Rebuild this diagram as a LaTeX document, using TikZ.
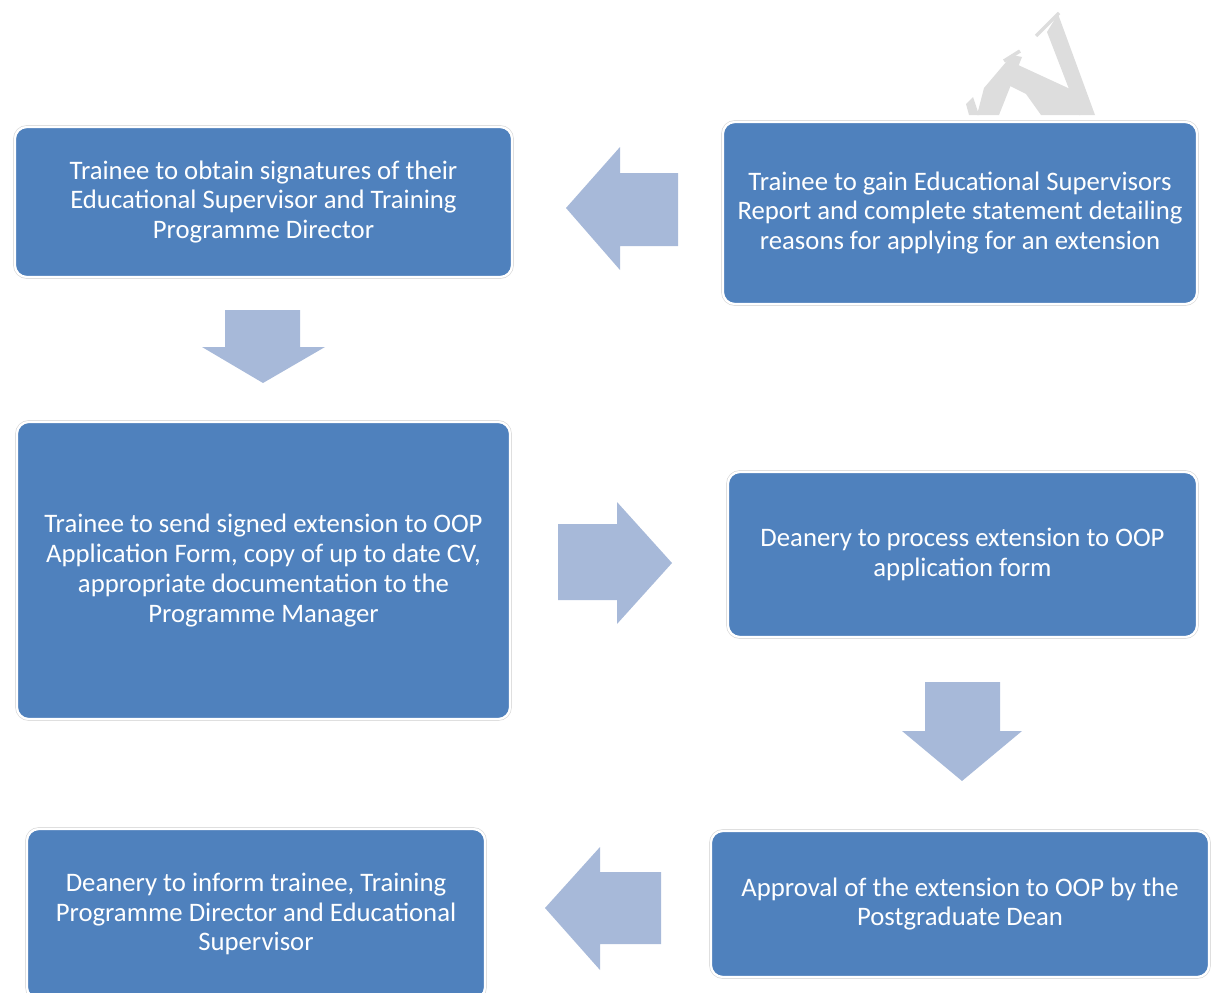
\documentclass[tikz,border=0pt]{standalone}
\usepackage{fontspec}
\setmainfont{Carlito}
\usepackage{xcolor}
\usetikzlibrary{positioning}

\definecolor{boxblue}{HTML}{4F81BD}
\definecolor{arrowblue}{HTML}{A7B9D9}
\definecolor{markgray}{HTML}{DDDDDD}

\tikzset{
  stepbox/.style={rectangle, rounded corners=8.5pt, fill=boxblue, draw=white, line width=1.6pt,
    preaction={draw=black!14, line width=2.6pt},
    text=white, align=center, inner sep=0pt, font=\fontsize{19}{21.3}\selectfont},
  blockarrow/.style={fill=arrowblue, draw=none},
  markline/.style={draw=markgray, line cap=butt},
}

\begin{document}
\begin{tikzpicture}[x=0.025cm, y=-0.025cm]
\useasboundingbox (0,0) rectangle (1213,993);
\clip (0,0) rectangle (1213,993);

% watermark fragment
\begin{scope}
\clip (900,0) rectangle (1120,115);
\draw[markline, line width=2.5pt] (1036,36) -- (1059,13);
\fill[markgray] (1047,32) -- (1058,14) -- (1095,115) -- (1079,115) -- cycle;
\fill[markgray] (1016,64) -- (1081,94) -- (1080,115) -- (1041,115) -- (1026,94) -- (1010,86) -- cycle;
\draw[markline, line width=2.5pt] (1004,61) -- (1020,51);
\fill[markgray] (1012,55) -- (1022,57) -- (999,115) -- (977,115) -- (984,88) -- cycle;
\fill[markgray] (966,104) -- (973,97) -- (979,115) -- (969,115) -- cycle;
\end{scope}

% steps
\node[stepbox, minimum width=12.425cm, minimum height=3.75cm] (sign) at (263.5,202)
  {Trainee to obtain signatures of their\\Educational Supervisor and Training\\Programme Director};
\node[stepbox, minimum width=11.85cm, minimum height=4.55cm] (report) at (960,213)
  {Trainee to gain Educational Supervisors\\Report and complete statement detailing\\reasons for applying for an extension};
\node[stepbox, minimum width=12.325cm, minimum height=7.425cm] (send) at (263.5,570.5)
  {Trainee to send signed extension to OOP\\Application Form, copy of up to date CV,\\appropriate documentation to the\\Programme Manager};
\node[stepbox, minimum width=11.725cm, minimum height=4.125cm] (process) at (962.5,554.5)
  {Deanery to process extension to OOP\\application form};
\node[stepbox, minimum width=12.45cm, minimum height=3.65cm] (approve) at (960,904)
  {Approval of the extension to OOP by the\\Postgraduate Dean};
\node[stepbox, minimum width=11.45cm, minimum height=4.25cm] (inform) at (256,914)
  {Deanery to inform trainee, Training\\Programme Director and Educational\\Supervisor};

% block arrows
\fill[blockarrow] (678,173) -- (620,173) -- (620,147) -- (566,208) -- (620,270) -- (620,246) -- (678,246) -- cycle;
\fill[blockarrow] (225,310) -- (300,310) -- (300,347) -- (325,347) -- (263,383) -- (202,347) -- (225,347) -- cycle;
\fill[blockarrow] (558,524) -- (617,524) -- (617,502) -- (672,563) -- (617,624) -- (617,600) -- (558,600) -- cycle;
\fill[blockarrow] (925,682) -- (1000,682) -- (1000,731) -- (1022,731) -- (962,781) -- (902,731) -- (925,731) -- cycle;
\fill[blockarrow] (661,872) -- (600,872) -- (600,847) -- (545,908) -- (600,970) -- (600,944) -- (661,944) -- cycle;
\end{tikzpicture}
\end{document}
